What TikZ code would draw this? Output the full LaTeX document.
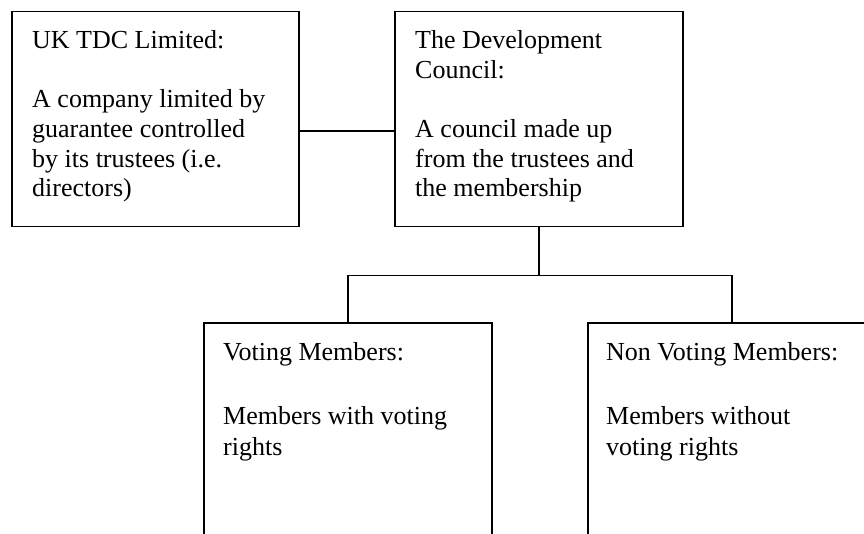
\documentclass[tikz,border=0pt]{standalone}
\usepackage{fontspec}
\setmainfont{Liberation Serif}
\begin{document}
\begin{tikzpicture}[x=1pt,y=1pt,
  boxshape/.style={draw=black, line width=1.5pt, rectangle, inner sep=0pt, anchor=north west},
  toptext/.style={anchor=north west, inner sep=0pt, align=left, font=\fontsize{26}{29.7}\selectfont},
  bottext/.style={anchor=north west, inner sep=0pt, align=left, font=\fontsize{26}{31.7}\selectfont},
  link/.style={draw=black, line width=1.5pt}]
\useasboundingbox (0,0) rectangle (864,533);
\clip (0,0) rectangle (864,533);
\fill[white] (0,0) rectangle (864,533);
% boxes
\node[boxshape, minimum width=287pt, minimum height=215pt] (b1) at (11,522) {};
\node[boxshape, minimum width=288pt, minimum height=215pt] (b2) at (394,522) {};
\node[boxshape, minimum width=288pt, minimum height=260pt] (b3) at (203,210.5) {};
\node[boxshape, minimum width=288pt, minimum height=260pt] (b4) at (587,210.5) {};
% texts
\node[toptext] (t1) at ([xshift=21pt,yshift=-16.5pt]b1.north west)
  {\strut UK TDC Limited:\\[29.7pt]A company limited by\\guarantee controlled\\by its trustees (i.e.\\directors)};
\node[toptext] (t2) at ([xshift=21pt,yshift=-16.5pt]b2.north west)
  {\strut The Development\\Council:\\[29.7pt]A council made up\\from the trustees and\\the membership};
\node[bottext] (t3) at ([xshift=20pt,yshift=-15.8pt]b3.north west)
  {\strut Voting Members:\\[31.7pt]Members with voting\\rights};
\node[bottext] (t4) at ([xshift=19pt,yshift=-15.8pt]b4.north west)
  {\strut Non Voting Members:\\[31.7pt]Members without\\voting rights};
% connectors
\draw[link] ([yshift=-120pt]b1.north east) -- ([yshift=-120pt]b2.north west);
\draw[link] (b2.south) -- ++(0,-48) coordinate (hub);
\draw[link] (b3.north) |- (hub) -| (b4.north);
\end{tikzpicture}
\end{document}
